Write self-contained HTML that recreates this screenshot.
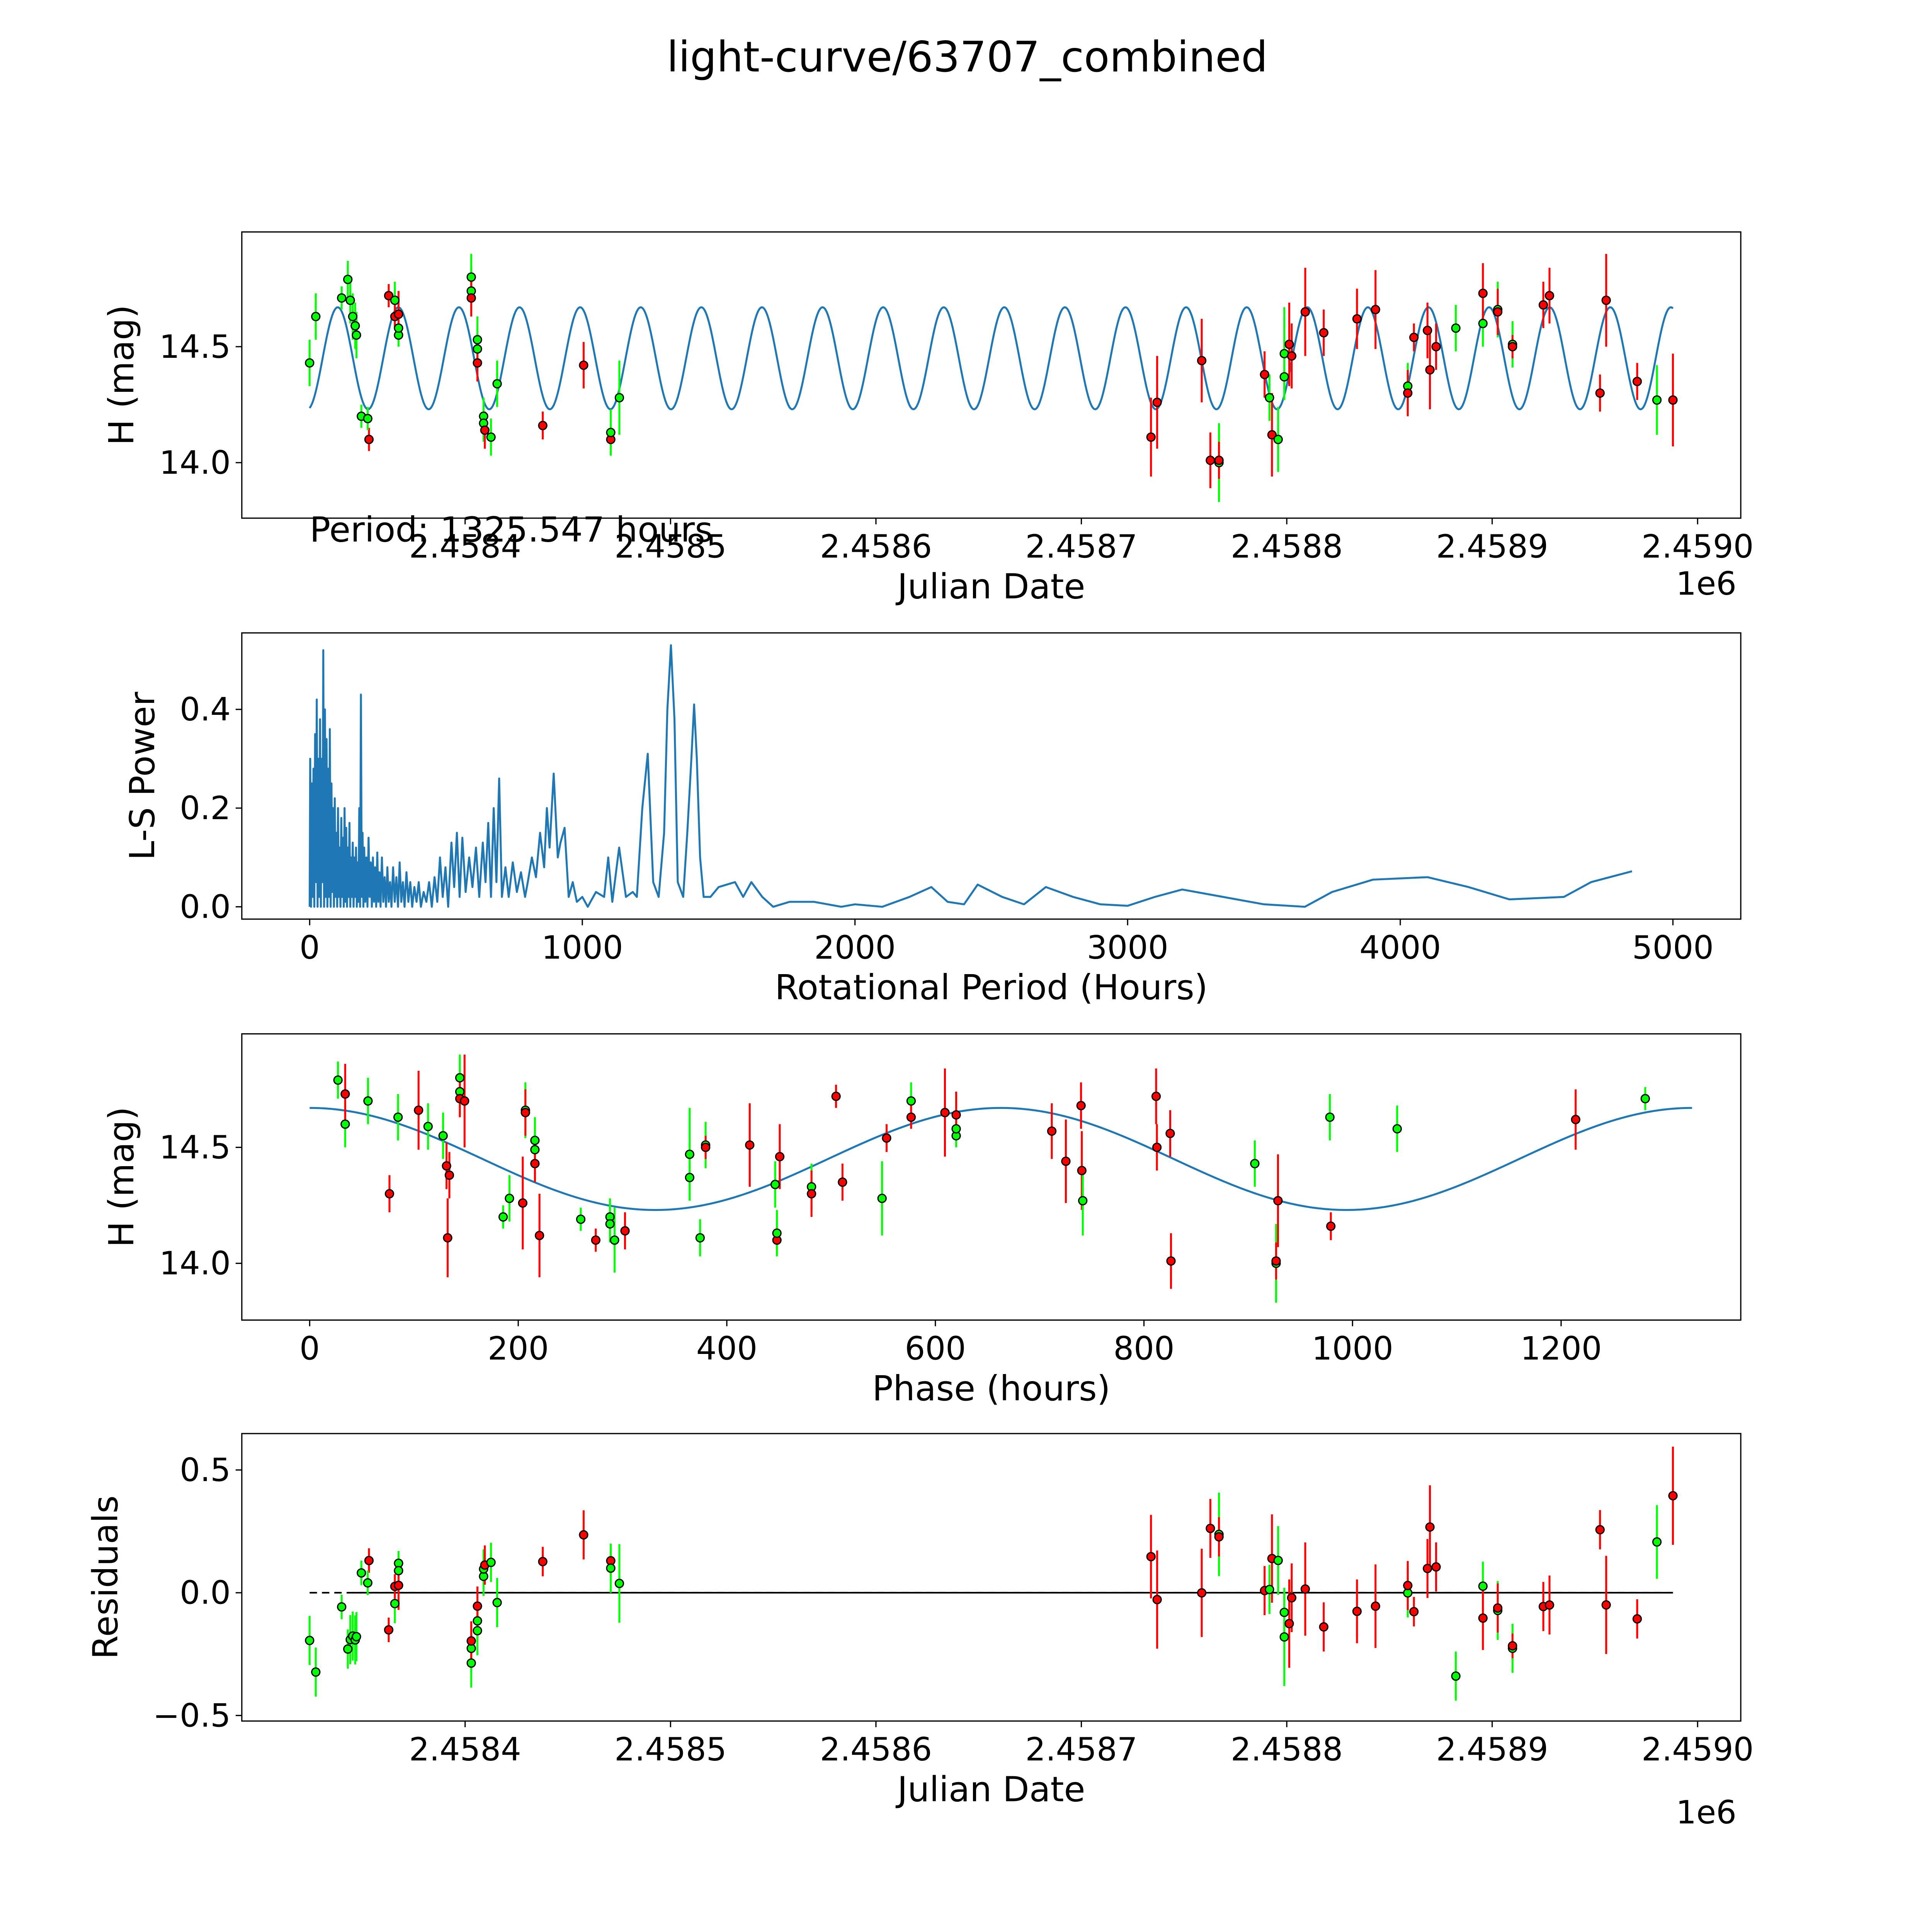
<!DOCTYPE html>
<html><head><meta charset="utf-8"><style>
html,body{margin:0;padding:0;background:#fff;overflow:hidden;}
svg{display:block;width:100vw;height:100vw;font-family:"DejaVu Sans","Liberation Sans",sans-serif;}
</style></head><body>
<svg id="fig" xmlns="http://www.w3.org/2000/svg" viewBox="0 0 1566 1566" preserveAspectRatio="xMinYMin meet">
<rect width="1566" height="1566" fill="#fff"/>
<text x="784" y="58" font-size="34" text-anchor="middle">light-curve/63707_combined</text>
<g id="p1"></g>
<g id="p2"></g>
<g id="p3"></g>
<g id="p4"></g>
</svg>
<script>
// observation days (JD - 2458000), magnitudes, errors, filter colours
const obsDay=[324.3,327.3,339.9,342.9,344.1,345.3,346.5,347.1,349.5,353.2,352.6,362.8,365.8,365.8,367.6,367.6,367.6,403.0,403.0,403.0,406.0,406.0,406.0,409.0,409.0,409.6,412.6,415.6,437.8,457.7,470.9,470.9,475.1,733.9,736.9,758.6,762.8,767.0,767.0,789.2,791.6,792.8,795.8,798.8,798.8,801.2,802.4,809.0,818.0,834.2,843.2,858.9,858.9,861.9,868.5,869.7,872.7,882.3,895.5,895.5,902.7,902.7,909.9,909.9,924.9,927.9,952.5,955.5,970.6,980.2,988.0];
const obsMag=[14.43,14.63,14.71,14.79,14.70,14.63,14.59,14.55,14.20,14.10,14.19,14.72,14.70,14.63,14.55,14.58,14.64,14.80,14.74,14.71,14.53,14.49,14.43,14.20,14.17,14.14,14.11,14.34,14.16,14.42,14.10,14.13,14.28,14.11,14.26,14.44,14.01,14.00,14.01,14.38,14.28,14.12,14.10,14.37,14.47,14.51,14.46,14.65,14.56,14.62,14.66,14.33,14.30,14.54,14.57,14.40,14.50,14.58,14.60,14.73,14.66,14.65,14.51,14.50,14.68,14.72,14.30,14.70,14.35,14.27,14.27];
const obsErr=[0.1,0.1,0.05,0.08,0.1,0.1,0.1,0.1,0.05,0.05,0.05,0.05,0.08,0.05,0.05,0.05,0.1,0.1,0.1,0.08,0.1,0.08,0.08,0.08,0.08,0.08,0.08,0.1,0.06,0.1,0.06,0.1,0.16,0.17,0.2,0.18,0.12,0.17,0.08,0.1,0.1,0.18,0.14,0.1,0.2,0.18,0.14,0.19,0.1,0.13,0.17,0.1,0.1,0.06,0.12,0.17,0.1,0.1,0.1,0.13,0.12,0.1,0.1,0.05,0.1,0.12,0.08,0.2,0.08,0.15,0.2];
const obsBand=["g","g","g","g","g","g","g","g","g","r","g","r","g","r","g","g","r","g","g","r","g","g","r","g","g","r","g","g","r","r","r","g","g","r","r","r","r","g","r","r","g","r","g","g","g","r","r","r","r","r","r","g","r","r","r","r","r","g","g","r","g","r","g","r","r","r","r","r","r","g","r"];
// model parameters
const periodHours=1325.547;
const modelMean=14.45, modelAmp=0.22, modelPeakDay=397, curvePeriodDays=29.5;
// periodogram (period hours, power)
const lsPeriod=[0,2,5,8,11,14,17,20,23,26,29,32,35,38,41,44,47,50,53,56,59,62,65,68,71,74,77,80,83,86,89,92,95,98,101,104,107,110,113,116,119,122,125,128,131,134,137,140,143,146,149,152,155,158,161,164,167,170,173,176,179,182,185,188,191,194,197,200,204,208,212,216,220,224,228,232,236,240,244,248,252,256,260,265,270,275,280,285,290,295,300,306,312,318,324,330,336,342,348,355,362,369,376,384,392,400,408,418,428,438,448,458,468,478,488,498,508,520,530,540,550,560,572,585,597,610,622,635,645,655,665,675,685,695,705,718,730,745,760,775,790,800,815,830,845,860,870,880,895,910,920,935,950,965,980,1000,1020,1050,1080,1095,1110,1135,1160,1185,1200,1220,1240,1260,1280,1300,1312,1325,1338,1350,1370,1385,1400,1410,1420,1432,1445,1470,1500,1560,1590,1620,1660,1700,1760,1800,1850,1900,1950,2000,2100,2200,2280,2340,2400,2450,2540,2620,2700,2800,2900,3000,3100,3200,3350,3500,3650,3750,3900,4100,4250,4400,4600,4700,4850,5000];
const lsPower=[0,0.30,0,0.25,0.02,0.28,0,0.35,0.05,0.42,0,0.30,0.02,0.38,0,0.30,0.05,0.52,0,0.40,0.02,0.34,0,0.28,0.02,0.36,0,0.25,0.03,0.20,0,0.22,0.02,0.15,0,0.20,0.02,0.12,0,0.18,0.02,0.14,0,0.20,0.01,0.16,0,0.12,0.02,0.17,0,0.10,0.02,0.13,0,0.10,0.02,0.12,0,0.09,0.01,0.20,0,0.43,0.02,0.15,0,0.12,0.01,0.10,0,0.14,0.02,0.09,0,0.10,0.01,0.08,0,0.11,0.01,0.07,0,0.10,0.01,0.06,0,0.08,0.01,0.05,0,0.08,0.01,0.06,0,0.09,0.01,0.05,0,0.07,0.01,0.05,0,0.04,0.01,0.05,0,0.03,0.01,0.05,0,0.06,0.01,0.10,0.02,0.08,0,0.13,0.04,0.15,0.02,0.14,0.03,0.10,0.04,0.12,0.02,0.13,0.05,0.17,0.02,0.20,0.05,0.26,0.02,0.08,0.02,0.09,0.03,0.07,0.02,0.05,0.10,0.06,0.15,0.08,0.20,0.12,0.27,0.10,0.13,0.16,0.02,0.05,0.01,0.02,0,0.03,0.02,0.10,0.01,0.12,0.02,0.03,0.02,0.20,0.31,0.05,0.02,0.15,0.40,0.53,0.38,0.05,0.02,0.15,0.30,0.41,0.30,0.10,0.02,0.02,0.04,0.05,0.02,0.05,0.02,0,0.01,0.01,0.01,0.005,0,0.005,0,0.02,0.04,0.01,0.005,0.045,0.02,0.005,0.04,0.02,0.005,0.002,0.02,0.035,0.02,0.005,0,0.03,0.055,0.06,0.04,0.015,0.02,0.05,0.072];
const jdTicks=[2458400,2458500,2458600,2458700,2458800,2458900,2459000];
const jdTickLabels=["2.4584","2.4585","2.4586","2.4587","2.4588","2.4589","2.4590"];

const NS="http://www.w3.org/2000/svg";
function mk(parent,tag,attrs,txt){const e=document.createElementNS(NS,tag);for(const k in attrs)e.setAttribute(k,attrs[k]);if(txt!==undefined)e.textContent=txt;parent.appendChild(e);return e;}
function model(d){return modelMean+modelAmp*Math.cos(2*Math.PI*(d-modelPeakDay)/curvePeriodDays);}
function phaseOf(d){let p=((d-modelPeakDay)*24)%periodHours;if(p<0)p+=periodHours;return p;}
function phaseModel(p){return modelMean+modelAmp*Math.cos(4*Math.PI*p/periodHours);}
const col={g:"#00ff00",r:"#ff0000"};

function axes(g,box,xs,ys,xt,xl,yt,yl,xlabel,ylabel,ylabX){
  const fr=mk(g,"rect",{x:box.l,y:box.t,width:box.r-box.l,height:box.b-box.t,fill:"none",stroke:"#000","stroke-width":1});
  
  
  xt.forEach((v,i)=>{const x=xs(v);
    const t=mk(g,"line",{x1:x,x2:x,y1:box.b,y2:box.b+5,stroke:"#000"});
    
    
    const l=mk(g,"text",{x:x,y:box.b+32,"font-size":26,"text-anchor":"middle"},xl[i]);
    
    });
  yt.forEach((v,i)=>{const y=ys(v);
    const t=mk(g,"line",{x1:box.l-5,x2:box.l,y1:y,y2:y,stroke:"#000"});
    
    
    const l=mk(g,"text",{x:box.l-9,y:y+9,"font-size":26,"text-anchor":"end"},yl[i]);
    
    });
  const xla=mk(g,"text",{x:(box.l+box.r)/2,y:box.b+65,"font-size":28,"text-anchor":"middle"},xlabel);
  
  
  const cy=(box.t+box.b)/2;
  const yla=mk(g,"text",{x:ylabX,y:cy,"font-size":28,"text-anchor":"middle",transform:`rotate(-90 ${ylabX} ${cy})`},ylabel);
  
  
}
function pts(g,xArr,yArr,eArr,band,xs,ys){
  xArr.forEach((xv,i)=>{const x=xs(xv),c=col[band[i]];
    const eb=mk(g,"line",{x1:x,x2:x,y1:ys(yArr[i]-eArr[i]),y2:ys(yArr[i]+eArr[i]),stroke:c,"stroke-width":1.6});
    
    });
  xArr.forEach((xv,i)=>{const x=xs(xv),y=ys(yArr[i]),c=col[band[i]];
    const m=mk(g,"circle",{cx:x,cy:y,r:3.3,fill:c,stroke:"#000","stroke-width":1});
    
    });
}
const jdX=v=>377+(v-2458400)*1.665;
const dayX=d=>jdX(2458000+d);

// Panel 1
(function(){const g=document.getElementById("p1");const box={l:196,r:1411,t:188,b:420};
  const ys=m=>281-(m-14.5)*188;
  axes(g,box,jdX,ys,jdTicks,jdTickLabels,[14.0,14.5],["14.0","14.5"],"Julian Date","H (mag)",108);
  const e=mk(g,"text",{x:1383,y:482,"font-size":26,"text-anchor":"middle"},"1e6");
  
  
  let d="";for(let i=0;i<=1100;i++){const day=324.3+(988-324.3)*i/1100;d+=(i?"L":"M")+dayX(day).toFixed(2)+","+ys(model(day)).toFixed(2);}
  const p=mk(g,"path",{d:d,fill:"none",stroke:"#1f77b4","stroke-width":1.6});
  
  
  pts(g,obsDay,obsMag,obsErr,obsBand,dayX,ys);
  const pt=mk(g,"text",{x:251,y:439,"font-size":28},"Period: 1325.547 hours");
  
  
})();
// Panel 2
(function(){const g=document.getElementById("p2");const box={l:196,r:1411,t:513,b:745};
  const xs=v=>251+v*0.221, ys=v=>735-v*400;
  axes(g,box,xs,ys,[0,1000,2000,3000,4000,5000],["0","1000","2000","3000","4000","5000"],[0,0.2,0.4],["0.0","0.2","0.4"],"Rotational Period (Hours)","L-S Power",125);
  let d="";lsPeriod.forEach((v,i)=>{d+=(i?"L":"M")+xs(v).toFixed(2)+","+ys(lsPower[i]).toFixed(2);});
  const p=mk(g,"path",{d:d,fill:"none",stroke:"#1f77b4","stroke-width":1.6,"stroke-linejoin":"round"});
  
  
})();
// Panel 3
(function(){const g=document.getElementById("p3");const box={l:196,r:1411,t:838,b:1070};
  const xs=v=>251+v*0.8453, ys=m=>930-(m-14.5)*188;
  axes(g,box,xs,ys,[0,200,400,600,800,1000,1200],["0","200","400","600","800","1000","1200"],[14.0,14.5],["14.0","14.5"],"Phase (hours)","H (mag)",108);
  let d="";for(let i=0;i<=400;i++){const ph=periodHours*i/400;d+=(i?"L":"M")+xs(ph).toFixed(2)+","+ys(phaseModel(ph)).toFixed(2);}
  const p=mk(g,"path",{d:d,fill:"none",stroke:"#1f77b4","stroke-width":1.6});
  
  
  pts(g,obsDay.map(phaseOf),obsMag,obsErr,obsBand,xs,ys);
})();
// Panel 4
(function(){const g=document.getElementById("p4");const box={l:196,r:1411,t:1162,b:1395};
  const ys=v=>1291-v*199;
  axes(g,box,jdX,ys,jdTicks,jdTickLabels,[-0.5,0,0.5],["\u22120.5","0.0","0.5"],"Julian Date","Residuals",95);
  const e=mk(g,"text",{x:1383,y:1478,"font-size":26,"text-anchor":"middle"},"1e6");
  
  
  const z1=mk(g,"line",{x1:dayX(324.3),x2:dayX(988),y1:ys(0),y2:ys(0),stroke:"#000","stroke-dasharray":"6,4","stroke-width":1.3});
  
  
  const z2=mk(g,"line",{x1:dayX(345),x2:dayX(988),y1:ys(0),y2:ys(0),stroke:"#000","stroke-width":1.3});
  
  
  pts(g,obsDay,obsDay.map((d,i)=>model(d)-obsMag[i]),obsErr,obsBand,dayX,ys);
})();
</script>
</body></html>
